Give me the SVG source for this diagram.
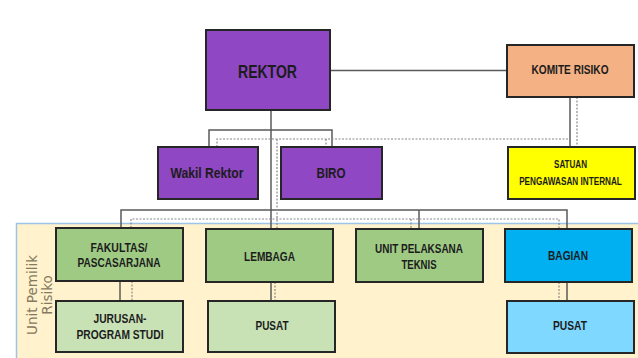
<svg xmlns="http://www.w3.org/2000/svg" width="638" height="358" viewBox="0 0 638 358">
<style>
.box{stroke:#262626;stroke-width:2}
.t{font-family:"Liberation Sans",Arial,sans-serif;font-weight:bold;fill:#1c1c1c;text-anchor:middle}
.s{fill:none;stroke:#5a5a5a;stroke-width:1.5}
.d{fill:none;stroke:#8a8a8a;stroke-width:1.2;stroke-dasharray:2,1.5}
.side{font-family:"DejaVu Sans",sans-serif;font-size:13.5px;fill:#857a60;text-anchor:middle}
</style>
<rect width="638" height="358" fill="#ffffff"/>
<g id="panel">
<rect x="16.5" y="223.5" width="625" height="140" fill="#FFF2CC" stroke="#9DC3E6" stroke-width="1.5"/>
<text class="side" transform="translate(37,295) rotate(-90)">Unit Pemilik</text>
<text class="side" transform="translate(52,295) rotate(-90)">Risiko</text>
</g>
<g id="connectors">
<path class="s" d="M330 70.5H507"/>
<path class="s" d="M271 110V229"/>
<path class="s" d="M209 147V130H332V147"/>
<path class="s" d="M570 97V147"/>
<path class="s" d="M121 228V210H567V229"/>
<path class="s" d="M419 210V229"/>
<path class="s" d="M120 281V301"/>
<path class="s" d="M271 282V301"/>
<path class="s" d="M567 282V301"/>
<path class="d" d="M217 147V139H569"/>
<path class="d" d="M326 139V147"/>
<path class="d" d="M577 97V147"/>
<path class="d" d="M277 139V229"/>
<path class="d" d="M131 228V219H559V229"/>
<path class="d" d="M411 219V229"/>
<path class="d" d="M132 281V301"/>
<path class="d" d="M275 282V301"/>
<path class="d" d="M559 282V301"/>
</g>
<g id="rektor">
<rect class="box" x="206" y="30" width="124" height="80" fill="#8F47C3"/>
<text class="t" x="267.5" y="78" font-size="18" textLength="59" lengthAdjust="spacingAndGlyphs">REKTOR</text>
</g>
<g id="komite-risiko">
<rect class="box" x="507" y="45" width="127" height="52" fill="#F4B183"/>
<text class="t" x="570" y="74" font-size="12" textLength="77" lengthAdjust="spacingAndGlyphs">KOMITE RISIKO</text>
</g>
<g id="wakil-rektor">
<rect class="box" x="158" y="147" width="100" height="52" fill="#8F47C3"/>
<text class="t" x="207" y="178" font-size="15.5" textLength="73" lengthAdjust="spacingAndGlyphs">Wakil Rektor</text>
</g>
<g id="biro">
<rect class="box" x="281" y="147" width="101" height="52" fill="#8F47C3"/>
<text class="t" x="331" y="178" font-size="15.5" textLength="29" lengthAdjust="spacingAndGlyphs">BIRO</text>
</g>
<g id="satuan-pengawasan-internal">
<rect class="box" x="508" y="147" width="127" height="52" fill="#FFFF00"/>
<text class="t" x="570.5" y="168" font-size="11" textLength="33" lengthAdjust="spacingAndGlyphs">SATUAN</text>
<text class="t" transform="translate(570.5,185) scale(0.78,1)" font-size="10.5">PENGAWASAN INTERNAL</text>
</g>
<g id="fakultas">
<rect class="box" x="56" y="228" width="127" height="53" fill="#9FCA84"/>
<text class="t" x="119" y="251.5" font-size="13" textLength="57" lengthAdjust="spacingAndGlyphs">FAKULTAS/</text>
<text class="t" x="119" y="266.5" font-size="13" textLength="83" lengthAdjust="spacingAndGlyphs">PASCASARJANA</text>
</g>
<g id="lembaga">
<rect class="box" x="206" y="229" width="127" height="53" fill="#9FCA84"/>
<text class="t" x="269.5" y="260.5" font-size="13" textLength="51" lengthAdjust="spacingAndGlyphs">LEMBAGA</text>
</g>
<g id="unit-pelaksana-teknis">
<rect class="box" x="356" y="229" width="127" height="53" fill="#9FCA84"/>
<text class="t" x="419" y="253" font-size="13" textLength="88" lengthAdjust="spacingAndGlyphs">UNIT PELAKSANA</text>
<text class="t" x="419" y="269" font-size="13" textLength="35" lengthAdjust="spacingAndGlyphs">TEKNIS</text>
</g>
<g id="bagian">
<rect class="box" x="505" y="229" width="127" height="53" fill="#00B0F0"/>
<text class="t" x="568" y="260" font-size="13" textLength="40" lengthAdjust="spacingAndGlyphs">BAGIAN</text>
</g>
<g id="jurusan">
<rect class="box" x="56" y="301" width="127" height="51" fill="#C8E2B6"/>
<text class="t" x="120" y="323" font-size="13" textLength="53" lengthAdjust="spacingAndGlyphs">JURUSAN-</text>
<text class="t" x="120" y="339" font-size="13" textLength="87" lengthAdjust="spacingAndGlyphs">PROGRAM STUDI</text>
</g>
<g id="pusat-lembaga">
<rect class="box" x="208" y="301" width="127" height="51" fill="#C8E2B6"/>
<text class="t" x="272" y="330" font-size="13" textLength="33" lengthAdjust="spacingAndGlyphs">PUSAT</text>
</g>
<g id="pusat-bagian">
<rect class="box" x="507" y="301" width="127" height="52" fill="#7FD8FF"/>
<text class="t" x="570" y="330" font-size="13" textLength="34" lengthAdjust="spacingAndGlyphs">PUSAT</text>
</g>
</svg>
